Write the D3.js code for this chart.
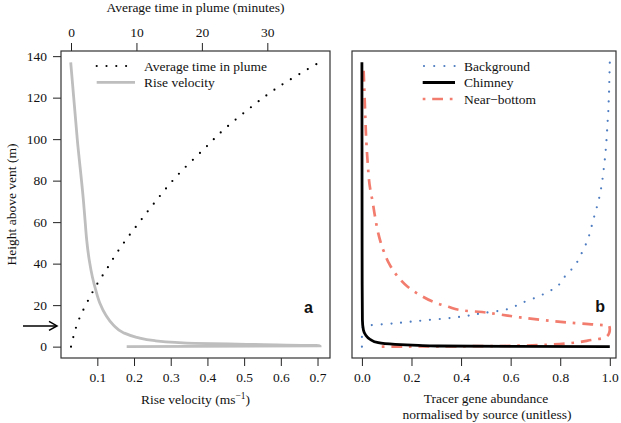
<!DOCTYPE html>
<html><head><meta charset="utf-8">
<script src="https://cdn.jsdelivr.net/npm/d3@7"></script>
<style>
body{margin:0;background:#fff}
svg text{font-family:"Liberation Serif","Tinos","Times New Roman","DejaVu Serif",serif !important;fill:#111}
svg text.lab{font-family:"Liberation Sans",Arial,"DejaVu Sans",sans-serif !important;font-weight:bold}
</style></head><body>
<svg id="c" width="621" height="423"></svg>
<script>
// ---------- data ----------
// Panel a: rise velocity (m/s) vs height above vent (m)
const velHeight = [0, 0.4, 1.1, 1.6, 2.07, 2.85, 4.5, 6.7, 10.4, 15.2, 20.9, 27.3, 33.7, 41.7, 51.4, 61, 70.6, 99.4, 137];
const velValue  = [0.18, 0.707, 0.507, 0.366, 0.312, 0.257, 0.207, 0.171, 0.1436, 0.123, 0.107, 0.0956, 0.0864, 0.078, 0.071, 0.0665, 0.062, 0.0456, 0.0275];
// Panel a: average time in plume (minutes) vs height
const timeHeight = [0, 13.2, 21.5, 29.5, 37.4, 45.3, 52.8, 60.2, 67.4, 82, 98.1, 101.5, 113.5, 124.5, 136.5];
const timeMinutes = [0, 1.22, 2.49, 3.87, 5.46, 7.03, 8.71, 10.5, 12.27, 16.1, 21.24, 22.3, 26.75, 31.4, 37.7];
// Panel b: tracer gene abundance normalised by source
const bgHeight = [0, 4.8, 9.3, 10.3, 11, 11.9, 12.8, 13.6, 14.7, 16.2, 17.6, 21, 24.5, 29, 33.7, 37.3, 41.1, 45.4, 49.8, 54.1, 58.6, 63.1, 67.4, 72.1, 76.4, 81.1, 85.6, 90.3, 94.7, 99.4, 104, 108.9, 113.5, 118.4, 123, 128, 132.5, 137];
const bgValue  = [0, 0, 0.003, 0.033, 0.109, 0.187, 0.265, 0.339, 0.416, 0.49, 0.57, 0.643, 0.718, 0.787, 0.818, 0.846, 0.87, 0.888, 0.905, 0.918, 0.928, 0.938, 0.948, 0.958, 0.965, 0.971, 0.9755, 0.98, 0.9835, 0.9865, 0.989, 0.9915, 0.994, 0.9955, 0.997, 0.998, 0.999, 1.0];
const chimHeight = [0.05, 0.12, 0.3, 0.6, 1.1, 1.9, 3.5, 5.6, 8, 12.8, 30, 137];
const chimValue  = [1.0, 0.6, 0.308, 0.228, 0.134, 0.066, 0.033, 0.015, 0.006, 0.002, 0.001, 0.0];
const nbHeight = [0, 0.1, 0.25, 0.5, 1.0, 1.9, 3.2, 4.3, 6.5, 8.3, 9.9, 10.7, 11.5, 12.8, 14.1, 15.7, 16.8, 17.3, 19.2, 21.6, 24.9, 28.6, 33.4, 39.3, 46.6, 54.6, 62.6, 70.6, 76.3, 89.1, 102, 114.8, 136];
const nbValue  = [0.08, 0.3, 0.5, 0.65, 0.76, 0.857, 0.925, 0.98, 0.997, 1.0, 0.998, 0.933, 0.84, 0.732, 0.638, 0.544, 0.47, 0.416, 0.349, 0.288, 0.234, 0.187, 0.147, 0.113, 0.086, 0.066, 0.053, 0.042, 0.033, 0.023, 0.0165, 0.0125, 0.006];

const heightTicks = [0, 20, 40, 60, 80, 100, 120, 140];
const velTicks = [0.1, 0.2, 0.3, 0.4, 0.5, 0.6, 0.7];
const timeTicks = [0, 10, 20, 30];
const abundTicks = [0, 0.2, 0.4, 0.6, 0.8, 1.0];

// ---------- layout ----------
const svg = d3.select("#c");
const pTop = 51, pBot = 358;
const A = {l: 61, r: 330}, B = {l: 352, r: 616};

const y = d3.scaleLinear().domain([-5.48, 142.48]).range([pBot, pTop]);
const xv = d3.scaleLinear().domain([0.001, 0.734]).range([A.l, A.r]);
const xt = d3.scaleLinear().domain([-1.53, 39.58]).range([A.l, A.r]);
const xb = d3.scaleLinear().domain([-0.04, 1.025]).range([B.l, B.r]);

const fs = 13.5;
function styleAxis(g){
  g.select(".domain").remove();
  g.selectAll(".tick line").attr("stroke", "#222").attr("stroke-width", 1);
  g.selectAll(".tick text").attr("font-family", null).attr("font-size", fs).attr("fill", "#111");
}

// Panel a axes
svg.append("g").attr("transform", `translate(${A.l},0)`)
  .call(d3.axisLeft(y).tickValues(heightTicks).tickSize(8).tickPadding(6).tickFormat(d3.format("d")))
  .call(styleAxis);
svg.append("g").attr("transform", `translate(0,${pBot})`)
  .call(d3.axisBottom(xv).tickValues(velTicks).tickSize(8).tickPadding(6).tickFormat(d3.format(".1f")))
  .call(styleAxis);
svg.append("g").attr("transform", `translate(0,${pTop})`)
  .call(d3.axisTop(xt).tickValues(timeTicks).tickSize(8).tickPadding(6).tickFormat(d3.format("d")))
  .call(styleAxis);
// Panel b axis
svg.append("g").attr("transform", `translate(0,${pBot})`)
  .call(d3.axisBottom(xb).tickValues(abundTicks).tickSize(8).tickPadding(6).tickFormat(d3.format(".1f")))
  .call(styleAxis);
svg.selectAll("g").attr("font-family", null);

// ---------- curves ----------
function path(xs, hs, xScale){
  const pts = hs.map((h, i) => [xScale(xs[i]), y(h)]);
  return d3.line().curve(d3.curveMonotoneY)(pts.slice().reverse());
}
function pathFwd(xs, hs, xScale){
  const pts = hs.map((h, i) => [xScale(xs[i]), y(h)]);
  return d3.line().curve(d3.curveMonotoneY)(pts);
}

svg.append("clipPath").attr("id", "ca").append("rect").attr("x", A.l).attr("y", pTop).attr("width", A.r - A.l).attr("height", pBot - pTop);
svg.append("clipPath").attr("id", "cb").append("rect").attr("x", B.l).attr("y", pTop).attr("width", B.r - B.l).attr("height", pBot - pTop);

const gA = svg.append("g").attr("clip-path", "url(#ca)");
gA.append("path").attr("d", path(velValue, velHeight, xv))
  .attr("fill", "none").attr("stroke", "#bebebe").attr("stroke-width", 2.8);
gA.append("path").attr("d", pathFwd(timeMinutes, timeHeight, xt))
  .attr("fill", "none").attr("stroke", "#000").attr("stroke-width", 2.2)
  .attr("stroke-linecap", "round").attr("stroke-dasharray", "0 9.8");

const blue = "#4d7cc0", salmon = "#f27d6e";
const gB = svg.append("g").attr("clip-path", "url(#cb)");
gB.append("path").attr("d", pathFwd(bgValue, bgHeight, xb))
  .attr("fill", "none").attr("stroke", blue).attr("stroke-width", 2.2)
  .attr("stroke-linecap", "round").attr("stroke-dasharray", "0 9.7");
gB.append("path").attr("d", pathFwd(nbValue, nbHeight, xb))
  .attr("fill", "none").attr("stroke", salmon).attr("stroke-width", 2.7)
  .attr("stroke-dasharray", "2.7 6.8 10.8 6.8");
gB.append("path").attr("d", pathFwd(chimValue, chimHeight, xb))
  .attr("fill", "none").attr("stroke", "#000").attr("stroke-width", 2.8);

// ---------- boxes ----------
[A, B].forEach(p => svg.append("rect").attr("x", p.l).attr("y", pTop)
  .attr("width", p.r - p.l).attr("height", pBot - pTop)
  .attr("fill", "none").attr("stroke", "#333").attr("stroke-width", 1.2));

// ---------- legends ----------
function legendLine(x1, x2, yy, stroke, w, dash, cap){
  const l = svg.append("line").attr("x1", x1).attr("x2", x2).attr("y1", yy).attr("y2", yy)
    .attr("stroke", stroke).attr("stroke-width", w);
  if (dash) l.attr("stroke-dasharray", dash);
  if (cap) l.attr("stroke-linecap", cap);
}
function legendText(x, yy, t){
  svg.append("text").attr("x", x).attr("y", yy).attr("font-size", fs).text(t);
}
const legA = ["Average time in plume", "Rise velocity"];
legendLine(96.7, 128, 66, "#000", 2.2, "0 9.8", "round");
legendLine(96.7, 135, 82.3, "#bebebe", 2.8);
legA.forEach((t, i) => legendText(144, 70.5 + i * 16.5, t));

const legB = ["Background", "Chimney", "Near\u2212bottom"];
legendLine(424, 456, 66, blue, 2.2, "0 10.2", "round");
legendLine(422.7, 455, 82.5, "#000", 2.8);
legendLine(422.7, 455, 99, salmon, 2.7, "2.7 6.8 10.8 6.8");
legB.forEach((t, i) => legendText(464, 70.5 + i * 16.5, t));

// ---------- axis titles ----------
svg.append("text").attr("x", (A.l + A.r) / 2).attr("y", 12).attr("text-anchor", "middle")
  .attr("font-size", fs).text("Average time in plume (minutes)");
const vt = svg.append("text").attr("x", (A.l + A.r) / 2).attr("y", 404).attr("text-anchor", "middle").attr("font-size", fs);
vt.append("tspan").text("Rise velocity (ms");
vt.append("tspan").attr("dy", -5).attr("font-size", 9.5).text("\u22121");
vt.append("tspan").attr("dy", 5).text(")");
svg.append("text").attr("transform", `translate(16,${(pTop + pBot) / 2}) rotate(-90)`)
  .attr("text-anchor", "middle").attr("font-size", fs).text("Height above vent (m)");
svg.append("text").attr("x", 486).attr("y", 403).attr("text-anchor", "middle")
  .attr("font-size", fs).text("Tracer gene abundance");
svg.append("text").attr("x", 487).attr("y", 419).attr("text-anchor", "middle")
  .attr("font-size", fs).text("normalised by source (unitless)");

// panel letters
svg.append("text").attr("class", "lab").attr("x", 313).attr("y", 313).attr("text-anchor", "end")
  .attr("font-size", 16).text("a");
svg.append("text").attr("class", "lab").attr("x", 605).attr("y", 312).attr("text-anchor", "end")
  .attr("font-size", 16).text("b");

// arrow at ~10 m
const ay = y(10);
svg.append("line").attr("x1", 23).attr("x2", 57).attr("y1", ay).attr("y2", ay).attr("stroke", "#000").attr("stroke-width", 1.5);
svg.append("path").attr("d", `M49,${ay - 4.5} L57,${ay} L49,${ay + 4.5}`).attr("fill", "none").attr("stroke", "#000").attr("stroke-width", 1.5);
</script></body></html>
